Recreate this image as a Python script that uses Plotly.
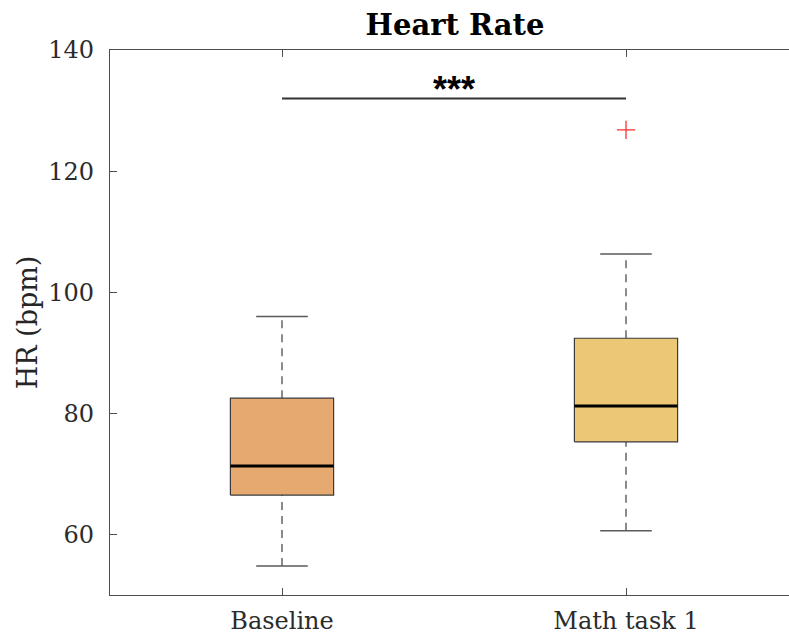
import plotly.graph_objects as go

# Summary statistics of heart rate per condition (bpm)
groups = ["Baseline", "Math task 1"]
lower_whisker = [54.8, 60.6]
q1 = [66.5, 75.3]
median = [71.3, 81.2]
q3 = [82.5, 92.4]
upper_whisker = [96.0, 106.3]
outlier_group = [2]
outlier_value = [126.8]
fill_colors = ["#E6AA70", "#EBC776"]
significance = "***"
sig_level = 132.0

yticks = [60, 80, 100, 120, 140]

BOX_W = 0.30
CAP_W = 0.15
SERIF = "DejaVu Serif"

fig = go.Figure()

for i, name in enumerate(groups):
    x = i + 1
    # dashed whiskers
    for lo, hi in ((lower_whisker[i], q1[i]), (q3[i], upper_whisker[i])):
        fig.add_trace(go.Scatter(
            x=[x, x], y=[lo, hi], mode="lines",
            line=dict(color="#6e6e6e", width=1.6, dash="8px,6px"),
            hoverinfo="skip", showlegend=False))
    # whisker caps
    for v in (lower_whisker[i], upper_whisker[i]):
        fig.add_trace(go.Scatter(
            x=[x - CAP_W / 2, x + CAP_W / 2], y=[v, v], mode="lines",
            line=dict(color="#5a5a5a", width=1.6),
            hoverinfo="skip", showlegend=False))
    # box
    fig.add_trace(go.Scatter(
        x=[x - BOX_W / 2, x + BOX_W / 2, x + BOX_W / 2, x - BOX_W / 2, x - BOX_W / 2],
        y=[q1[i], q1[i], q3[i], q3[i], q1[i]],
        mode="lines", fill="toself", fillcolor=fill_colors[i],
        line=dict(color="#3a3a3a", width=1.2),
        name=name, showlegend=False))
    # median
    fig.add_trace(go.Scatter(
        x=[x - BOX_W / 2, x + BOX_W / 2], y=[median[i], median[i]], mode="lines",
        line=dict(color="#000000", width=3),
        hoverinfo="skip", showlegend=False))

# outliers
fig.add_trace(go.Scatter(
    x=outlier_group, y=outlier_value, mode="markers",
    marker=dict(symbol="cross-thin", size=13, line=dict(color="#ff3030", width=1.3)),
    showlegend=False))

# significance bar
fig.add_trace(go.Scatter(
    x=[1, 2], y=[sig_level, sig_level], mode="lines",
    line=dict(color="#333333", width=2),
    hoverinfo="skip", showlegend=False))
fig.add_annotation(
    x=1.5, y=sig_level, text="<b>" + significance + "</b>", showarrow=False,
    xanchor="center", yanchor="bottom", yshift=-14,
    font=dict(family="Liberation Sans", size=36, color="#000000"))

fig.update_layout(
    width=789, height=637,
    margin=dict(l=110, r=0, t=50, b=42),
    paper_bgcolor="white", plot_bgcolor="white",
    title=dict(text="<b>Heart Rate</b>", x=455 / 789, xanchor="center",
               y=1 - 25 / 637, yanchor="middle",
               font=dict(family=SERIF, size=29, color="#000000")),
    font=dict(family=SERIF, color="#262626"),
)

fig.update_xaxes(
    range=[0.5, 0.5 + 679 / 344],
    tickmode="array", tickvals=[1, 2], ticktext=groups,
    ticks="inside", ticklen=7, tickcolor="#4d4d4d", tickwidth=1,
    showline=True, linecolor="#4d4d4d", linewidth=1.3, mirror="ticks",
    showgrid=False, zeroline=False,
    tickfont=dict(family=SERIF, size=24, color="#2b2b2b"),
    ticklabelstandoff=4,
)
fig.update_yaxes(
    range=[50, 140],
    tickmode="array", tickvals=yticks,
    ticks="inside", ticklen=7, tickcolor="#4d4d4d", tickwidth=1,
    showline=True, linecolor="#4d4d4d", linewidth=1.3, mirror=False,
    showgrid=False, zeroline=False,
    tickfont=dict(family=SERIF, size=24, color="#2b2b2b"),
    ticklabelstandoff=10,
    title=dict(text="HR (bpm)", standoff=2,
               font=dict(family=SERIF, size=27, color="#262626")),
)

fig.write_html("out.html")
